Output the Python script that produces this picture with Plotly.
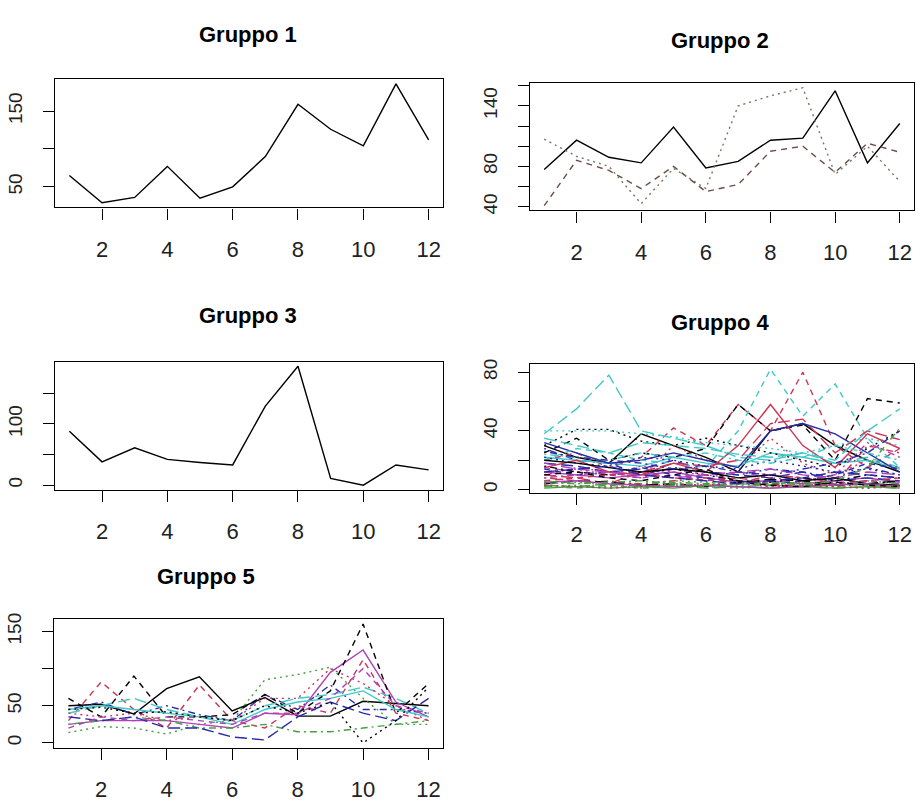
import plotly.graph_objects as go

x_vals = list(range(1, 13))

# ---- Gruppo 1 ----
g1_series = [
    [65, 29, 36, 77, 35, 50, 90, 159, 126, 104, 186, 112],
]
# ---- Gruppo 2 ----
g2_series = [
    [77, 106, 89, 83.5, 119, 78.5, 85, 106, 108, 155, 83.5, 122.5],
    [41, 86, 76, 58, 80, 55, 62, 95, 100, 74, 103, 94],
    [107, 90, 80, 43, 78, 58, 140, 150, 158, 72, 100, 65],
]
# ---- Gruppo 3 ----
g3_series = [
    [88, 38, 61, 42, 37, 33, 129, 194, 11, 0, 33, 25],
]
# ---- Gruppo 4 ----
g4_series = [
    [30, 22, 18, 38, 30, 22, 12, 40, 45, 30, 20, 12],
    [20, 25, 15, 22, 42, 30, 58, 40, 80, 30, 15, 28],
    [2, 3, 2, 1, 3, 2, 1, 2, 3, 2, 1, 2],
    [28, 20, 18, 10, 15, 12, 10, 14, 12, 8, 15, 10],
    [38, 55, 78, 40, 35, 30, 22, 20, 25, 18, 22, 15],
    [12, 10, 8, 10, 12, 8, 5, 6, 4, 6, 8, 5],
    [25, 35, 20, 25, 22, 28, 58, 40, 44, 20, 62, 59],
    [10, 15, 12, 8, 30, 20, 15, 35, 18, 10, 20, 15],
    [5, 4, 6, 3, 5, 4, 6, 3, 5, 2, 4, 5],
    [18, 16, 12, 14, 20, 12, 10, 8, 12, 6, 8, 6],
    [22, 20, 18, 16, 22, 18, 16, 25, 22, 18, 20, 14],
    [15, 12, 10, 8, 10, 6, 12, 10, 8, 5, 6, 4],
    [30, 41, 41, 33, 30, 35, 30, 25, 20, 15, 28, 40],
    [8, 6, 5, 4, 6, 8, 4, 10, 8, 4, 30, 25],
    [3, 2, 4, 2, 3, 1, 2, 3, 2, 1, 2, 1],
    [32, 25, 18, 20, 25, 20, 15, 40, 45, 38, 25, 12],
    [20, 28, 25, 20, 18, 15, 40, 82, 50, 72, 35, 15],
    [12, 14, 10, 16, 12, 10, 8, 5, 3, 4, 6, 8],
    [16, 12, 10, 12, 14, 10, 6, 5, 8, 6, 10, 8],
    [10, 8, 4, 12, 18, 16, 20, 45, 48, 25, 40, 34],
    [1, 2, 1, 2, 1, 3, 2, 1, 2, 1, 2, 1],
    [14, 10, 12, 15, 10, 8, 6, 4, 6, 10, 18, 14],
    [40, 40, 40, 38, 36, 32, 30, 28, 25, 30, 35, 30],
    [8, 10, 12, 8, 14, 10, 12, 8, 6, 10, 32, 22],
    [4, 6, 5, 3, 4, 2, 5, 7, 6, 3, 4, 6],
    [15, 20, 12, 10, 18, 12, 30, 58, 30, 15, 38, 28],
    [2, 1, 3, 1, 2, 2, 4, 3, 2, 4, 3, 2],
    [22, 18, 16, 22, 20, 16, 14, 20, 16, 12, 14, 10],
    [24, 22, 20, 25, 22, 25, 20, 18, 22, 30, 25, 20],
    [18, 14, 12, 10, 8, 10, 12, 14, 10, 8, 12, 10],
    [20, 18, 15, 12, 14, 12, 8, 10, 6, 8, 4, 3],
    [6, 8, 10, 12, 8, 6, 8, 4, 2, 4, 6, 8],
    [4, 5, 3, 4, 6, 5, 3, 4, 5, 3, 6, 4],
    [26, 22, 20, 18, 14, 16, 12, 10, 14, 18, 25, 40],
    [35, 30, 25, 32, 30, 28, 24, 22, 25, 20, 40, 55],
    [5, 6, 4, 3, 2, 3, 2, 1, 2, 3, 4, 2],
    [10, 12, 8, 6, 10, 14, 5, 3, 2, 5, 3, 2],
    [3, 2, 1, 2, 4, 3, 5, 2, 3, 2, 1, 3],
    [6, 4, 5, 6, 4, 3, 4, 5, 3, 6, 15, 42],
    [12, 14, 16, 10, 8, 6, 4, 6, 8, 12, 10, 8],
]
# ---- Gruppo 5 ----
g5_series = [
    [50, 52, 39, 73, 89, 43, 61, 36, 36, 56, 53, 50],
    [30, 82, 45, 20, 78, 30, 20, 50, 40, 112, 40, 30],
    [14, 22, 20, 12, 25, 30, 85, 92, 102, 60, 25, 25],
    [45, 55, 38, 50, 38, 30, 65, 45, 78, 45, 45, 40],
    [40, 50, 60, 45, 35, 30, 50, 60, 65, 75, 60, 40],
    [25, 30, 30, 30, 25, 20, 40, 38, 95, 125, 55, 35],
    [60, 35, 90, 35, 35, 38, 65, 40, 70, 160, 40, 80],
    [40, 35, 40, 30, 35, 30, 60, 60, 100, 80, 50, 30],
    [25, 30, 35, 30, 20, 20, 25, 15, 15, 20, 25, 30],
    [35, 30, 35, 20, 20, 8, 4, 35, 55, 40, 30, 60],
    [45, 50, 45, 40, 35, 25, 45, 55, 60, 70, 45, 35],
    [20, 35, 30, 35, 30, 25, 40, 40, 60, 100, 50, 40],
    [45, 48, 40, 42, 35, 30, 50, 40, 55, 0, 30, 75],
]

titles = ["Gruppo 1", "Gruppo 2", "Gruppo 3", "Gruppo 4", "Gruppo 5"]
x_tickvals = [2, 4, 6, 8, 10, 12]
y_ticks = [
    ([50, 100, 150], ["50", "", "150"]),
    ([40, 60, 80, 100, 120, 140, 160], ["40", "", "80", "", "", "140", ""]),
    ([0, 50, 100, 150], ["0", "", "100", ""]),
    ([0, 20, 40, 60, 80], ["0", "", "40", "", "80"]),
    ([0, 50, 100, 150], ["0", "50", "", "150"]),
]

W, H = 916, 805
# panel boxes in pixels: (left, right, top, bottom)
boxes = [
    (55, 443, 74, 204),
    (530, 914, 78, 207),
    (55, 443, 360, 490),
    (530, 914, 363, 493),
    (54, 443, 621, 751),
]
title_pos = [(248, 29), (720, 35), (248, 313), (720, 320), (206, 578)]

palette_main = ["#000000", "#cc3355", "#44a044", "#2a2aa8", "#40c8c8", "#b040b8"]
palette_g2 = ["#000000", "#6e4b4b", "#6c7c5c"]
dashes = ["solid", "6px,5px", "2px,4px", "2px,4px,7px,4px", "12px,5px"]

groups = [g1_series, g2_series, g3_series, g4_series, g5_series]

fig = go.Figure()
for gi, series in enumerate(groups):
    ax = "" if gi == 0 else str(gi + 1)
    for si, ys in enumerate(series):
        if gi == 1:
            col = palette_g2[si % 3]
        else:
            col = palette_main[si % 6]
        fig.add_trace(go.Scatter(
            x=x_vals, y=ys, mode="lines",
            line=dict(color=col, width=1.4, dash=dashes[si % 5]),
            xaxis="x" + ax, yaxis="y" + ax, showlegend=False,
            hoverinfo="skip",
        ))

layout = dict(
    width=W, height=H, margin=dict(l=0, r=0, t=0, b=0),
    paper_bgcolor="white", plot_bgcolor="white", showlegend=False,
    font=dict(family="Liberation Sans, Arial, sans-serif", color="#111111"),
)
annotations = []
for gi, series in enumerate(groups):
    L, R, T, B = boxes[gi]
    allv = [v for s in series for v in s]
    lo, hi = min(allv), max(allv)
    pad = (hi - lo) * 0.04
    key = "" if gi == 0 else str(gi + 1)
    layout["xaxis" + key] = dict(
        domain=[L / W, R / W], range=[1 - 0.44, 12 + 0.44],
        anchor="y" + key, showgrid=False, zeroline=False,
        showline=True, mirror=True, linecolor="#000", linewidth=1.2,
        ticks="outside", ticklen=11, tickwidth=1.2, tickcolor="#000",
        tickvals=x_tickvals, tickfont=dict(size=22, color="#222"),
        ticklabelstandoff=11,
    )
    tv, tt = y_ticks[gi]
    layout["yaxis" + key] = dict(
        domain=[1 - B / H, 1 - T / H], range=[lo - pad, hi + pad],
        anchor="x" + key, showgrid=False, zeroline=False,
        showline=True, mirror=True, linecolor="#000", linewidth=1.2,
        ticks="outside", ticklen=11, tickwidth=1.2, tickcolor="#000",
        tickvals=tv, ticktext=tt, tickangle=-90,
        tickfont=dict(size=19, color="#222"), ticklabelstandoff=13,
    )
    tx, ty = title_pos[gi]
    annotations.append(dict(
        text="<b>" + titles[gi] + "</b>", x=tx / W, y=1 - ty / H,
        xref="paper", yref="paper", showarrow=False,
        xanchor="center", yanchor="middle",
        font=dict(size=22, color="#000", family="Liberation Sans, Arial, sans-serif"),
    ))
layout["annotations"] = annotations
fig.update_layout(**layout)
fig.write_html(
    "out.html",
    config={"displayModeBar": False},
    post_script="document.body.style.margin='0';document.body.style.overflow='hidden';",
)
